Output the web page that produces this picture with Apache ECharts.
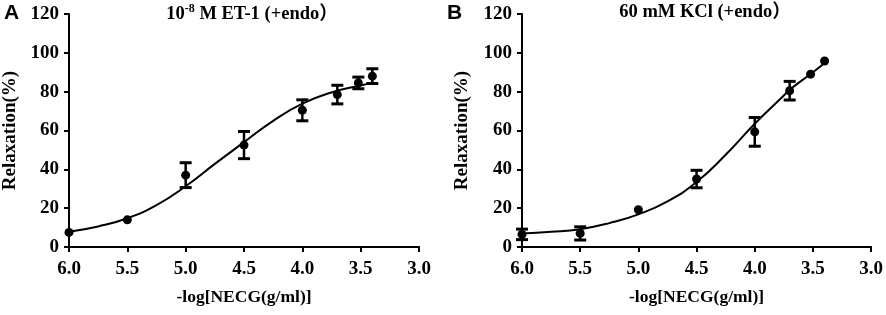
<!DOCTYPE html>
<html>
<head>
<meta charset="utf-8">
<script src="https://cdn.jsdelivr.net/npm/echarts@6/dist/echarts.min.js"></script>
<style>
  html, body { margin: 0; padding: 0; background: #fff; }
  #chartContainer { width: 886px; height: 315px; }
</style>
</head>
<body>
<div id="chartContainer"></div>
<script>
// x = -log[NECG(g/ml)]
var doseA = [6.0, 5.5, 5.0, 4.5, 4.0, 3.7, 3.52, 3.4];
var meanA = [7.5, 14, 37, 52.5, 70.4, 78.5, 84.5, 88];
var semA  = [0, 0, 6.4, 7, 5.4, 4.8, 3, 3.8];

var doseB = [6.0, 5.5, 5.0, 4.5, 4.0, 3.7, 3.52, 3.4];
var meanB = [6.5, 7, 19.2, 35, 59.3, 80.5, 89, 95.8];
var semB  = [2.7, 3.4, 0, 4.5, 7.4, 4.8, 0, 0];

// fitted curves
var fitXA = [6.0, 5.75, 5.5, 5.25, 5.0, 4.75, 4.5, 4.25, 4.0, 3.75, 3.5, 3.4];
var fitYA = [7.9, 10.6, 14.8, 21.6, 31.3, 42.8, 54, 65, 73.8, 79.6, 83.2, 84.4];
var fitXB = [6.0, 5.75, 5.5, 5.25, 5.0, 4.75, 4.5, 4.25, 4.0, 3.75, 3.7, 3.5, 3.4];
var fitYB = [7.0, 7.8, 9.2, 12.3, 16.8, 23.5, 33.5, 47.5, 63.5, 78, 81, 90, 94.8];

var xTicks = ['6.0', '5.5', '5.0', '4.5', '4.0', '3.5', '3.0'];
var yTicks = [0, 20, 40, 60, 80, 100, 120];

var serif = '"Liberation Serif", "Times New Roman", "Noto Sans CJK SC", serif';

function pairs(xs, ys) {
    return xs.map(function (x, i) { return [x, ys[i]]; });
}
function errData(xs, ys, es) {
    var out = [];
    xs.forEach(function (x, i) {
        if (es[i] > 0) out.push([x, ys[i] - es[i], ys[i] + es[i]]);
    });
    return out;
}
function renderErr(params, api) {
    var lo = api.coord([api.value(0), api.value(1)]);
    var hi = api.coord([api.value(0), api.value(2)]);
    var hw = 6;
    return {
        type: 'group',
        children: [
            { type: 'line', shape: { x1: lo[0], y1: lo[1], x2: hi[0], y2: hi[1] }, style: { stroke: '#000', lineWidth: 2.5 } },
            { type: 'line', shape: { x1: lo[0] - hw, y1: lo[1], x2: lo[0] + hw, y2: lo[1] }, style: { stroke: '#000', lineWidth: 3 } },
            { type: 'line', shape: { x1: hi[0] - hw, y1: hi[1], x2: hi[0] + hw, y2: hi[1] }, style: { stroke: '#000', lineWidth: 3 } }
        ]
    };
}

function xAxis(idx) {
    return {
        type: 'value', gridIndex: idx, min: 3, max: 6, interval: 0.5, inverse: true,
        name: '-log[NECG(g/ml)]', nameLocation: 'middle', nameGap: 42,
        nameTextStyle: { fontFamily: serif, fontWeight: 'bold', fontSize: 17.5, color: '#000' },
        axisLine: { onZero: false, lineStyle: { color: '#000', width: 2 } },
        axisTick: { show: true, length: 5, lineStyle: { color: '#000', width: 2 } },
        axisLabel: {
            margin: 13, color: '#000', fontFamily: serif, fontWeight: 'bold', fontSize: 19,
            formatter: function (v) { return xTicks[Math.round((6 - v) / 0.5)]; }
        },
        splitLine: { show: false }
    };
}
function yAxis(idx, gap) {
    return {
        type: 'value', gridIndex: idx, min: 0, max: 120, interval: 20,
        name: 'Relaxation(%)', nameLocation: 'middle', nameGap: gap,
        nameTextStyle: { fontFamily: serif, fontWeight: 'bold', fontSize: 19, color: '#000' },
        axisLine: { show: true, lineStyle: { color: '#000', width: 2 } },
        axisTick: { show: true, length: 5, lineStyle: { color: '#000', width: 2 } },
        axisLabel: {
            margin: 10, color: '#000', fontFamily: serif, fontWeight: 'bold', fontSize: 19,
            formatter: function (v) { return yTicks.indexOf(v) >= 0 ? String(v) : ''; }
        },
        splitLine: { show: false }
    };
}

var myChart = echarts.init(document.getElementById('chartContainer'));
var option = {
    animation: false,
    backgroundColor: '#fff',
    grid: [
        { left: 68, top: 14, width: 351, height: 233 },
        { left: 522, top: 14, width: 352, height: 233 }
    ],
    xAxis: [xAxis(0), xAxis(1)],
    yAxis: [yAxis(0, 49), yAxis(1, 50)],
    graphic: [
        { type: 'text', left: 4, top: 3, style: { text: 'A', font: 'bold 21px "Liberation Sans", Arial, sans-serif', fill: '#000' } },
        { type: 'text', left: 447, top: 3, style: { text: 'B', font: 'bold 21px "Liberation Sans", Arial, sans-serif', fill: '#000' } },
        {
            type: 'text', x: 252, y: 3,
            style: {
                text: '{b|10}{s|-8}{b| M ET-1 (+endo\uFF09}', align: 'center',
                rich: {
                    b: { fontFamily: serif, fontWeight: 'bold', fontSize: 18.5, fill: '#000', verticalAlign: 'bottom' },
                    s: { fontFamily: serif, fontWeight: 'bold', fontSize: 12, fill: '#000', verticalAlign: 'top', padding: [0, 0, 8, 0] }
                }
            }
        },
        {
            type: 'text', x: 705, y: 3,
            style: {
                text: '60 mM KCl (+endo\uFF09', align: 'center',
                font: 'bold 18.5px ' + serif, fill: '#000'
            }
        }
    ],
    series: [
        { type: 'line', xAxisIndex: 0, yAxisIndex: 0, data: pairs(fitXA, fitYA), smooth: 0.5, showSymbol: false, lineStyle: { color: '#000', width: 2 }, z: 2 },
        { type: 'custom', xAxisIndex: 0, yAxisIndex: 0, data: errData(doseA, meanA, semA), renderItem: renderErr, z: 3 },
        { type: 'scatter', xAxisIndex: 0, yAxisIndex: 0, data: pairs(doseA, meanA), symbolSize: 9, itemStyle: { color: '#000', opacity: 1 }, z: 4 },
        { type: 'line', xAxisIndex: 1, yAxisIndex: 1, data: pairs(fitXB, fitYB), smooth: 0.5, showSymbol: false, lineStyle: { color: '#000', width: 2 }, z: 2 },
        { type: 'custom', xAxisIndex: 1, yAxisIndex: 1, data: errData(doseB, meanB, semB), renderItem: renderErr, z: 3 },
        { type: 'scatter', xAxisIndex: 1, yAxisIndex: 1, data: pairs(doseB, meanB), symbolSize: 9, itemStyle: { color: '#000', opacity: 1 }, z: 4 }
    ]
};
myChart.setOption(option);
</script>
</body>
</html>
